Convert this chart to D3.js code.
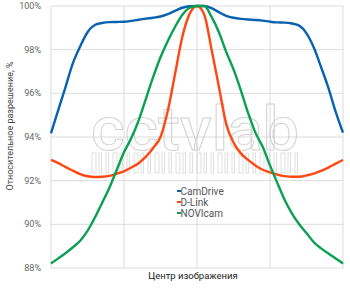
<!DOCTYPE html>
<html>
<head>
<meta charset="utf-8">
<script src="https://cdn.jsdelivr.net/npm/d3@7"></script>
<style>
  body { margin: 0; background: #fff; }
  svg { display: block; font-family: Roboto, sans-serif; }
</style>
</head>
<body>
<svg id="chart" width="350" height="292"></svg>
<script>
// position across the frame, % (50 = centre of the image)
const positions = [0, 2.5, 5, 7.5, 10, 12.5, 15, 17.5, 20, 22.5, 25, 27.5, 30, 32.5, 35, 37.5, 40, 42.5, 45, 47.5,
  50, 52.5, 55, 57.5, 60, 62.5, 65, 67.5, 70, 72.5, 75, 77.5, 80, 82.5, 85, 87.5, 90, 92.5, 95, 97.5, 100];

const camDrive = [94.17, 95.24, 96.3, 97.38, 98.15, 98.8, 99.13, 99.22, 99.26, 99.27, 99.28, 99.32, 99.37, 99.42, 99.46,
  99.52, 99.63, 99.78, 99.92, 99.99, 100, 100, 99.9, 99.72, 99.55, 99.46, 99.41, 99.38, 99.36, 99.33, 99.28,
  99.25, 99.24, 99.2, 99.1, 98.75, 98.1, 97.2, 96.25, 95.15, 94.2];

const dLink = [92.95, 92.8, 92.62, 92.46, 92.3, 92.2, 92.17, 92.18, 92.22, 92.32, 92.43, 92.6, 92.8, 93.1, 93.5,
  94.0, 95.2, 96.9, 98.6, 99.65, 100, 99.6, 98.0, 96.3, 94.6, 93.75, 93.25, 92.95, 92.7, 92.5, 92.38,
  92.28, 92.21, 92.18, 92.18, 92.24, 92.32, 92.45, 92.6, 92.78, 92.95];

const noviCam = [88.21, 88.44, 88.68, 88.95, 89.25, 89.7, 90.3, 90.98, 91.68, 92.49, 93.3, 93.95, 94.75, 95.75, 96.75,
  97.65, 98.4, 99.05, 99.6, 99.92, 100, 100, 99.5, 98.8, 97.9, 97.1, 96.15, 95.1, 94.2, 93.55, 92.7,
  91.9, 91.13, 90.5, 90.0, 89.6, 89.18, 88.9, 88.66, 88.44, 88.21];

const seriesNames = ['CamDrive', 'D-Link', 'NOVIcam'];
const seriesColors = ['#0862b0', '#ff4713', '#09a052'];
const yTicks = [88, 90, 92, 94, 96, 98, 100];
const xGrid = [0, 25, 50, 75, 100];
const xTitle = 'Центр изображения';
const yTitle = 'Относительное разрешение, %';

const series = [camDrive, dLink, noviCam].map((vals, i) => ({
  name: seriesNames[i],
  color: seriesColors[i],
  values: vals.map((v, j) => ({ p: positions[j], v }))
}));

const svg = d3.select('#chart');
const margin = { top: 6, right: 7, bottom: 24, left: 51 };
const width = 350, height = 292;

const x = d3.scaleLinear().domain([0, 100]).range([margin.left, width - margin.right]);
const y = d3.scaleLinear().domain([88, 100]).range([height - margin.bottom, margin.top]);

// grid
svg.append('g')
  .selectAll('line.h')
  .data(yTicks)
  .join('line')
  .attr('x1', x(0)).attr('x2', x(100))
  .attr('y1', d => y(d)).attr('y2', d => y(d))
  .attr('stroke', '#dcdcdc').attr('stroke-width', 1);

svg.append('g')
  .selectAll('line.v')
  .data(xGrid)
  .join('line')
  .attr('x1', d => x(d)).attr('x2', d => x(d))
  .attr('y1', y(100)).attr('y2', y(88))
  .attr('stroke', '#dcdcdc').attr('stroke-width', 1);

// y tick labels
svg.append('g')
  .selectAll('text')
  .data(yTicks)
  .join('text')
  .attr('x', 41)
  .attr('y', d => y(d))
  .attr('dy', '0.35em')
  .attr('text-anchor', 'end')
  .attr('font-size', '9px')
  .attr('fill', '#666')
  .text(d => d + '%');

// watermark
const wm = svg.append('g').attr('opacity', 0.8);
wm.append('text')
  .attr('x', 195).attr('y', 150)
  .attr('text-anchor', 'middle')
  .attr('font-size', '62px')
  .attr('font-weight', 500)
  .attr('textLength', 208)
  .attr('lengthAdjust', 'spacingAndGlyphs')
  .attr('fill', 'none')
  .attr('stroke', '#c8c8c8')
  .attr('stroke-width', 1)
  .text('cctvlab');
wm.selectAll('rect')
  .data(d3.range(30))
  .join('rect')
  .attr('x', d => 92 + d * 7)
  .attr('y', 153)
  .attr('width', d => (d % 3 === 0 ? 4 : 2.5))
  .attr('height', 20)
  .attr('fill', 'none')
  .attr('stroke', '#cfcfcf')
  .attr('stroke-width', 0.8);

// lines
const line = d3.line()
  .x(d => x(d.p))
  .y(d => y(d.v))
  .curve(d3.curveMonotoneX);

svg.append('g')
  .selectAll('path')
  .data(series)
  .join('path')
  .attr('fill', 'none')
  .attr('stroke', d => d.color)
  .attr('stroke-width', 2.4)
  .attr('stroke-linejoin', 'round')
  .attr('d', d => line(d.values));

// legend
const legend = svg.append('g').attr('transform', 'translate(177, 191)');
const item = legend.selectAll('g')
  .data(series)
  .join('g')
  .attr('transform', (d, i) => `translate(0, ${i * 11})`);
item.append('line')
  .attr('x1', 0).attr('x2', 4)
  .attr('stroke', d => d.color)
  .attr('stroke-width', 2);
item.append('text')
  .attr('x', 3.5)
  .attr('dy', '0.35em')
  .attr('font-size', '10px')
  .attr('fill', '#555')
  .text(d => d.name);

// titles
svg.append('text')
  .attr('x', x(50) - 4)
  .attr('y', 279)
  .attr('text-anchor', 'middle')
  .attr('font-size', '9.5px')
  .attr('fill', '#222')
  .text(xTitle);

svg.append('text')
  .attr('transform', 'translate(13, 126) rotate(-90)')
  .attr('text-anchor', 'middle')
  .attr('font-size', '9px')
  .attr('fill', '#444')
  .text(yTitle);
</script>
</body>
</html>
